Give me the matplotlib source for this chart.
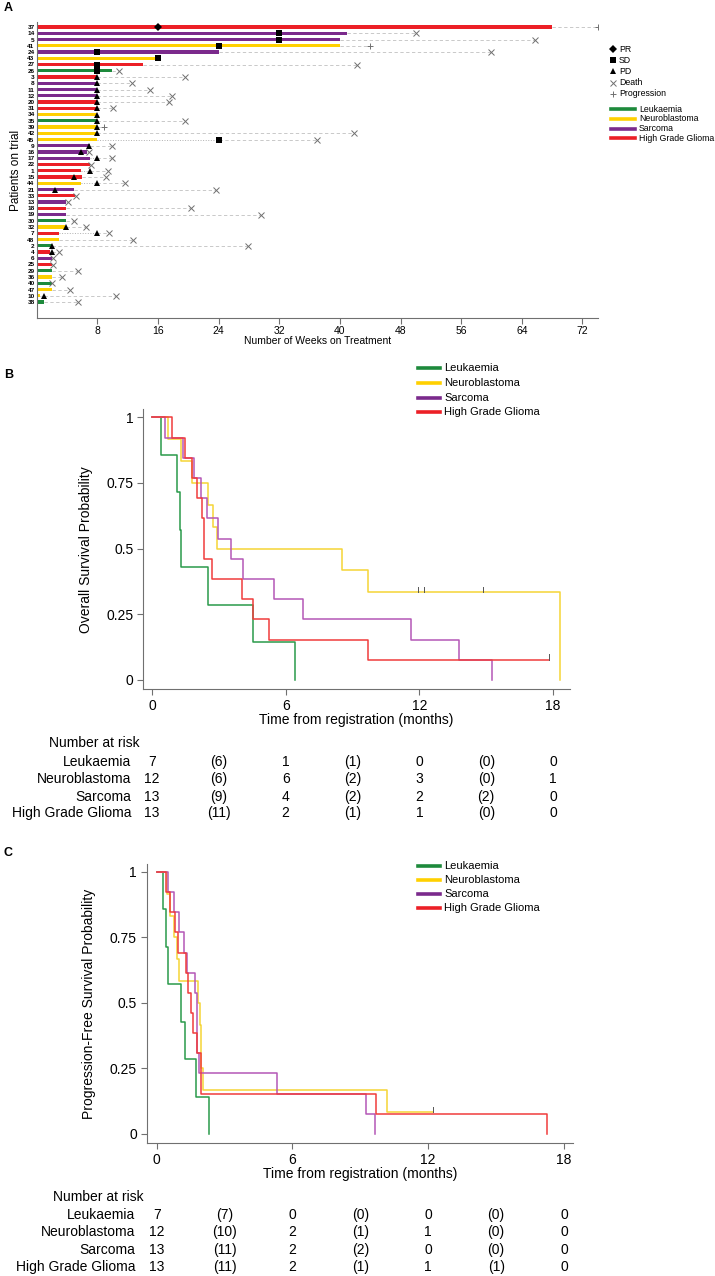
import numpy as np
import matplotlib.pyplot as plt
import matplotlib.transforms as mtransforms
from matplotlib.lines import Line2D

plt.rcParams['font.family'] = ['Liberation Sans', 'DejaVu Sans']

W, H = 715, 1276

# ---------------- Panel A: swimmer plot (top row first) ----------------
patients = [37, 14, 5, 41, 24, 43, 27, 26, 3, 8, 11, 12, 20, 31, 34, 35, 39, 42, 45,
            9, 16, 17, 22, 1, 15, 44, 21, 33, 13, 18, 19, 30, 32, 7, 48, 2, 4, 6, 25,
            29, 36, 40, 47, 10, 38]
tumour = ['G', 'S', 'S', 'N', 'S', 'N', 'G', 'L', 'G', 'S', 'S', 'S', 'G', 'G', 'N', 'L', 'N', 'N', 'N',
          'S', 'S', 'S', 'G', 'G', 'G', 'N', 'S', 'G', 'S', 'G', 'S', 'L', 'N', 'G', 'N', 'L', 'G', 'S', 'G',
          'L', 'N', 'L', 'N', 'N', 'L']
weeks = [68, 41, 40, 40, 24, 16, 14, 10, 8, 8, 8, 8, 8, 8, 8, 8, 8, 8, 8,
         7, 6.7, 7, 7, 5.9, 6, 5.9, 4.9, 5, 3.9, 3.9, 3.9, 3.9, 3.7, 3, 3, 2, 1.7, 2, 2,
         2, 2, 2, 2, 0.4, 0.9]
resp_type = ['PR', 'SD', 'SD', 'SD', 'SD', 'SD', 'SD', 'SD', 'PD', 'PD', 'PD', 'PD', 'PD', 'PD', 'PD', 'PD', 'PD', 'PD', 'SD',
             'PD', 'PD', 'PD', '', 'PD', 'PD', 'PD', 'PD', '', '', '', '', '', 'PD', 'PD', '', 'PD', 'PD', '', '',
             '', '', '', '', 'PD', '']
resp_week = [16, 32, 32, 24, 8, 16, 8, 8, 8, 8, 8, 8, 8, 8, 8, 8, 8, 8, 24,
             6.9, 5.8, 8, 0, 7, 4.9, 8, 2.4, 0, 0, 0, 0, 0, 3.8, 8, 0, 2, 2, 0, 0,
             0, 0, 0, 0, 0.9, 0]
event_type = ['P', 'D', 'D', 'P', 'D', '', 'D', 'D', 'D', 'D', 'D', 'D', 'D', 'D', '', 'D', 'P', 'D', 'D',
              'D', 'D', 'D', 'D', 'D', 'D', 'D', 'D', 'D', 'D', 'D', 'D', 'D', 'D', 'D', 'D', 'D', 'D', 'D', 'D',
              'D', 'D', 'D', 'D', 'D', 'D']
event_week = [74.1, 50.1, 65.7, 44, 60, 0, 42.3, 10.9, 19.5, 12.6, 15, 17.9, 17.5, 10.1, 0, 19.6, 8.9, 41.8, 37,
              10, 6.9, 10, 7.2, 9.4, 9.2, 11.7, 23.6, 5.2, 4.1, 20.4, 29.6, 4.9, 6.5, 9.6, 12.7, 27.9, 3, 2.2, 2.1,
              5.5, 3.3, 2, 4.4, 10.5, 5.5]

groups = ['Leukaemia', 'Neuroblastoma', 'Sarcoma', 'High Grade Glioma']
group_codes = ['L', 'N', 'S', 'G']
bar_colors = {'L': '#1d8a3c', 'N': '#ffd000', 'S': '#7b2a8c', 'G': '#ec1f26'}
km_colors = {'L': '#2a9a4a', 'N': '#f5d535', 'S': '#b457b6', 'G': '#f03c3c'}

# ---------------- Panel B: overall survival ----------------
os_t = {'L': [0, 0.4, 1.1, 1.26, 1.3, 2.5, 4.52, 6.42],
        'N': [0, 0.7, 1.3, 1.78, 2.53, 2.72, 2.93, 8.54, 9.68, 18.3],
        'S': [0, 0.6, 1.4, 1.9, 2.2, 2.45, 2.95, 3.53, 4.1, 5.48, 6.79, 11.62, 13.8, 15.25],
        'G': [0, 0.9, 1.5, 1.8, 2.0, 2.25, 2.32, 2.68, 4.03, 4.52, 5.27, 9.68, 17.83]}
os_s = {'L': [1, .857, .714, .571, .429, .286, .143, 0],
        'N': [1, .917, .833, .75, .667, .583, .5, .417, .333, 0],
        'S': [1, .923, .846, .769, .692, .615, .538, .462, .385, .308, .231, .154, .077, 0],
        'G': [1, .923, .846, .769, .692, .615, .462, .385, .308, .231, .154, .077, .077]}
os_cens = {'N': [11.95, 12.2, 14.87], 'G': [17.83]}
os_risk = {'L': ['7', '(6)', '1', '(1)', '0', '(0)', '0'],
           'N': ['12', '(6)', '6', '(2)', '3', '(0)', '1'],
           'S': ['13', '(9)', '4', '(2)', '2', '(2)', '0'],
           'G': ['13', '(11)', '2', '(1)', '1', '(0)', '0']}

# ---------------- Panel C: progression-free survival ----------------
pfs_t = {'L': [0, 0.3, 0.4, 0.49, 1.06, 1.25, 1.74, 2.33],
         'N': [0, 0.45, 0.6, 0.75, 0.91, 0.97, 1.81, 1.91, 1.95, 1.98, 2.06, 10.16, 12.22],
         'S': [0, 0.5, 0.75, 1.0, 1.2, 1.35, 1.69, 1.77, 1.8, 1.88, 5.33, 9.23, 9.66],
         'G': [0, 0.4, 0.6, 0.8, 0.93, 1.29, 1.39, 1.5, 1.62, 1.8, 1.96, 1.98, 9.69, 17.23]}
pfs_s = {'L': [1, .857, .714, .571, .429, .286, .143, 0],
         'N': [1, .917, .833, .75, .667, .583, .5, .417, .333, .25, .167, .083, .083],
         'S': [1, .923, .846, .769, .692, .615, .538, .385, .308, .231, .154, .077, 0],
         'G': [1, .923, .846, .769, .692, .615, .538, .462, .385, .308, .231, .154, .077, 0]}
pfs_cens = {'N': [12.22]}
pfs_risk = {'L': ['7', '(7)', '0', '(0)', '0', '(0)', '0'],
            'N': ['12', '(10)', '2', '(1)', '1', '(0)', '0'],
            'S': ['13', '(11)', '2', '(2)', '0', '(0)', '0'],
            'G': ['13', '(11)', '2', '(1)', '1', '(1)', '0']}
risk_times = [0, 3, 6, 9, 12, 15, 18]

GREY = '#707070'


def rect(left, top, right, bottom):
    return [left / W, 1 - bottom / H, (right - left) / W, (bottom - top) / H]


def fy(py):
    return 1 - py / H


fig = plt.figure(figsize=(W / 100, H / 100), dpi=100)

# ======== Panel A ========
axA = fig.add_axes(rect(36.7, 22, 597.6, 318))
rows = np.arange(len(patients))
for i in rows:
    code = tumour[i]
    axA.barh(i, weeks[i], height=0.5, left=0, color=bar_colors[code], zorder=2)
    start = weeks[i]
    if resp_type[i] and resp_week[i] > weeks[i]:
        axA.plot([weeks[i], resp_week[i]], [i, i], ls=':', color='#b0b0b0', lw=0.7, zorder=1)
        start = resp_week[i]
    if event_type[i] and event_week[i] > start:
        axA.plot([start, event_week[i]], [i, i], ls=(0, (4, 3)), color='#c0c0c0', lw=0.6, zorder=1)
    if event_type[i] == 'D':
        axA.plot(event_week[i], i, marker='x', ms=4, mew=0.7, color=GREY, zorder=3)
    elif event_type[i] == 'P':
        axA.plot(event_week[i], i, marker='+', ms=4.5, mew=0.7, color=GREY, zorder=3)
    mk = {'PR': 'D', 'SD': 's', 'PD': '^'}.get(resp_type[i])
    if mk:
        axA.plot(resp_week[i], i, marker=mk, ms=4.2 if mk != '^' else 4.8, color='black', mew=0, zorder=4)

axA.set_xlim(0, 74)
axA.set_ylim(46.56, -0.8)
axA.set_yticks(rows)
axA.set_yticklabels([str(p) for p in patients], fontsize=4.6, fontweight='bold')
axA.tick_params(axis='y', length=0, pad=1.5)
axA.set_xticks(np.arange(8, 73, 8))
axA.tick_params(axis='x', length=4, width=0.8, color=GREY, labelsize=7.5, pad=2)
for s in ['top', 'right']:
    axA.spines[s].set_visible(False)
for s in ['left', 'bottom']:
    axA.spines[s].set_color(GREY)
    axA.spines[s].set_linewidth(0.8)
axA.set_xlabel('Number of Weeks on Treatment', fontsize=7.5, labelpad=0)
axA.set_ylabel('Patients on trial', fontsize=8.5, labelpad=4)

# panel A legend (drawn on the figure, right of the axes)
mk_items = [('D', 'PR', 'black'), ('s', 'SD', 'black'), ('^', 'PD', 'black'),
            ('x', 'Death', GREY), ('+', 'Progression', GREY)]
for k, (m, lab, c) in enumerate(mk_items):
    y = fy(49 + 11.2 * k)
    fig.add_artist(Line2D([613 / W], [y], marker=m, ms=4, color=c,
                          mew=0 if m in 'Ds^' else 0.7, transform=fig.transFigure))
    fig.text(619 / W, y, lab, fontsize=6.3, va='center', ha='left')
for k, code in enumerate(group_codes):
    y = fy(109 + 9.8 * k)
    fig.add_artist(Line2D([611 / W, 635 / W], [y, y], lw=2.6, color=bar_colors[code],
                          transform=fig.transFigure))
    fig.text(639 / W, y, groups[k], fontsize=6.3, va='center', ha='left')


# ======== KM panels ========
def km_panel(box, xlim, t, s, cens, risk, ylabel, lab_right, nar_right, table_y, leg_y):
    ax = fig.add_axes(rect(*box))
    for code in group_codes:
        ax.step(t[code], s[code], where='post', color=km_colors[code], lw=1.1)
        for c in cens.get(code, []):
            idx = np.searchsorted(t[code], c, side='right') - 1
            lvl = s[code][idx]
            ax.plot([c, c], [lvl, lvl + 0.02], color='#555555', lw=0.7)
    ax.set_xlim(*xlim)
    ax.set_ylim(-0.034, 1.03)
    ax.set_xticks([0, 6, 12, 18])
    ax.set_yticks([0, 0.25, 0.5, 0.75, 1])
    ax.set_yticklabels(['0', '0.25', '0.5', '0.75', '1'])
    ax.tick_params(length=4, width=0.8, color=GREY, labelsize=10, pad=3)
    for sp in ['top', 'right']:
        ax.spines[sp].set_visible(False)
    for sp in ['left', 'bottom']:
        ax.spines[sp].set_color(GREY)
        ax.spines[sp].set_linewidth(0.8)
    ax.set_xlabel('Time from registration (months)', fontsize=10, labelpad=0)
    ax.set_ylabel(ylabel, fontsize=10, labelpad=10)

    tr = mtransforms.blended_transform_factory(ax.transData, fig.transFigure)
    fig.text(nar_right / W, fy(table_y[0]), 'Number at risk', fontsize=10, ha='right', va='center')
    for k, code in enumerate(group_codes):
        y = fy(table_y[k + 1])
        fig.text(lab_right / W, y, groups[k], fontsize=10, ha='right', va='center')
        for tt, val in zip(risk_times, risk[code]):
            ax.text(tt, y, val, transform=tr, fontsize=10, ha='center', va='center')

    for k, code in enumerate(group_codes):
        y = fy(leg_y[k])
        fig.add_artist(Line2D([418 / W, 440 / W], [y, y], lw=2.6, color=bar_colors[code],
                              transform=fig.transFigure))
        fig.text(444 / W, y, groups[k], fontsize=8, va='center', ha='left')
    return ax


km_panel((143.3, 409.4, 570, 688.9), (-0.39, 18.76), os_t, os_s, os_cens, os_risk,
         'Overall Survival Probability', 131, 140,
         [743, 762, 779, 797, 813], [368, 383, 398, 412])
km_panel((146.7, 864.1, 573.3, 1142.9), (-0.44, 18.41), pfs_t, pfs_s, pfs_cens, pfs_risk,
         'Progression-Free Survival Probability', 135, 144,
         [1197, 1215, 1232, 1250, 1267], [866, 880, 894, 908])

for lab, py in [('A', 8), ('B', 375), ('C', 853)]:
    fig.text(4 / W, fy(py), lab, fontsize=9, fontweight='bold', va='center', ha='left')

fig.savefig('out.png', dpi=100)
